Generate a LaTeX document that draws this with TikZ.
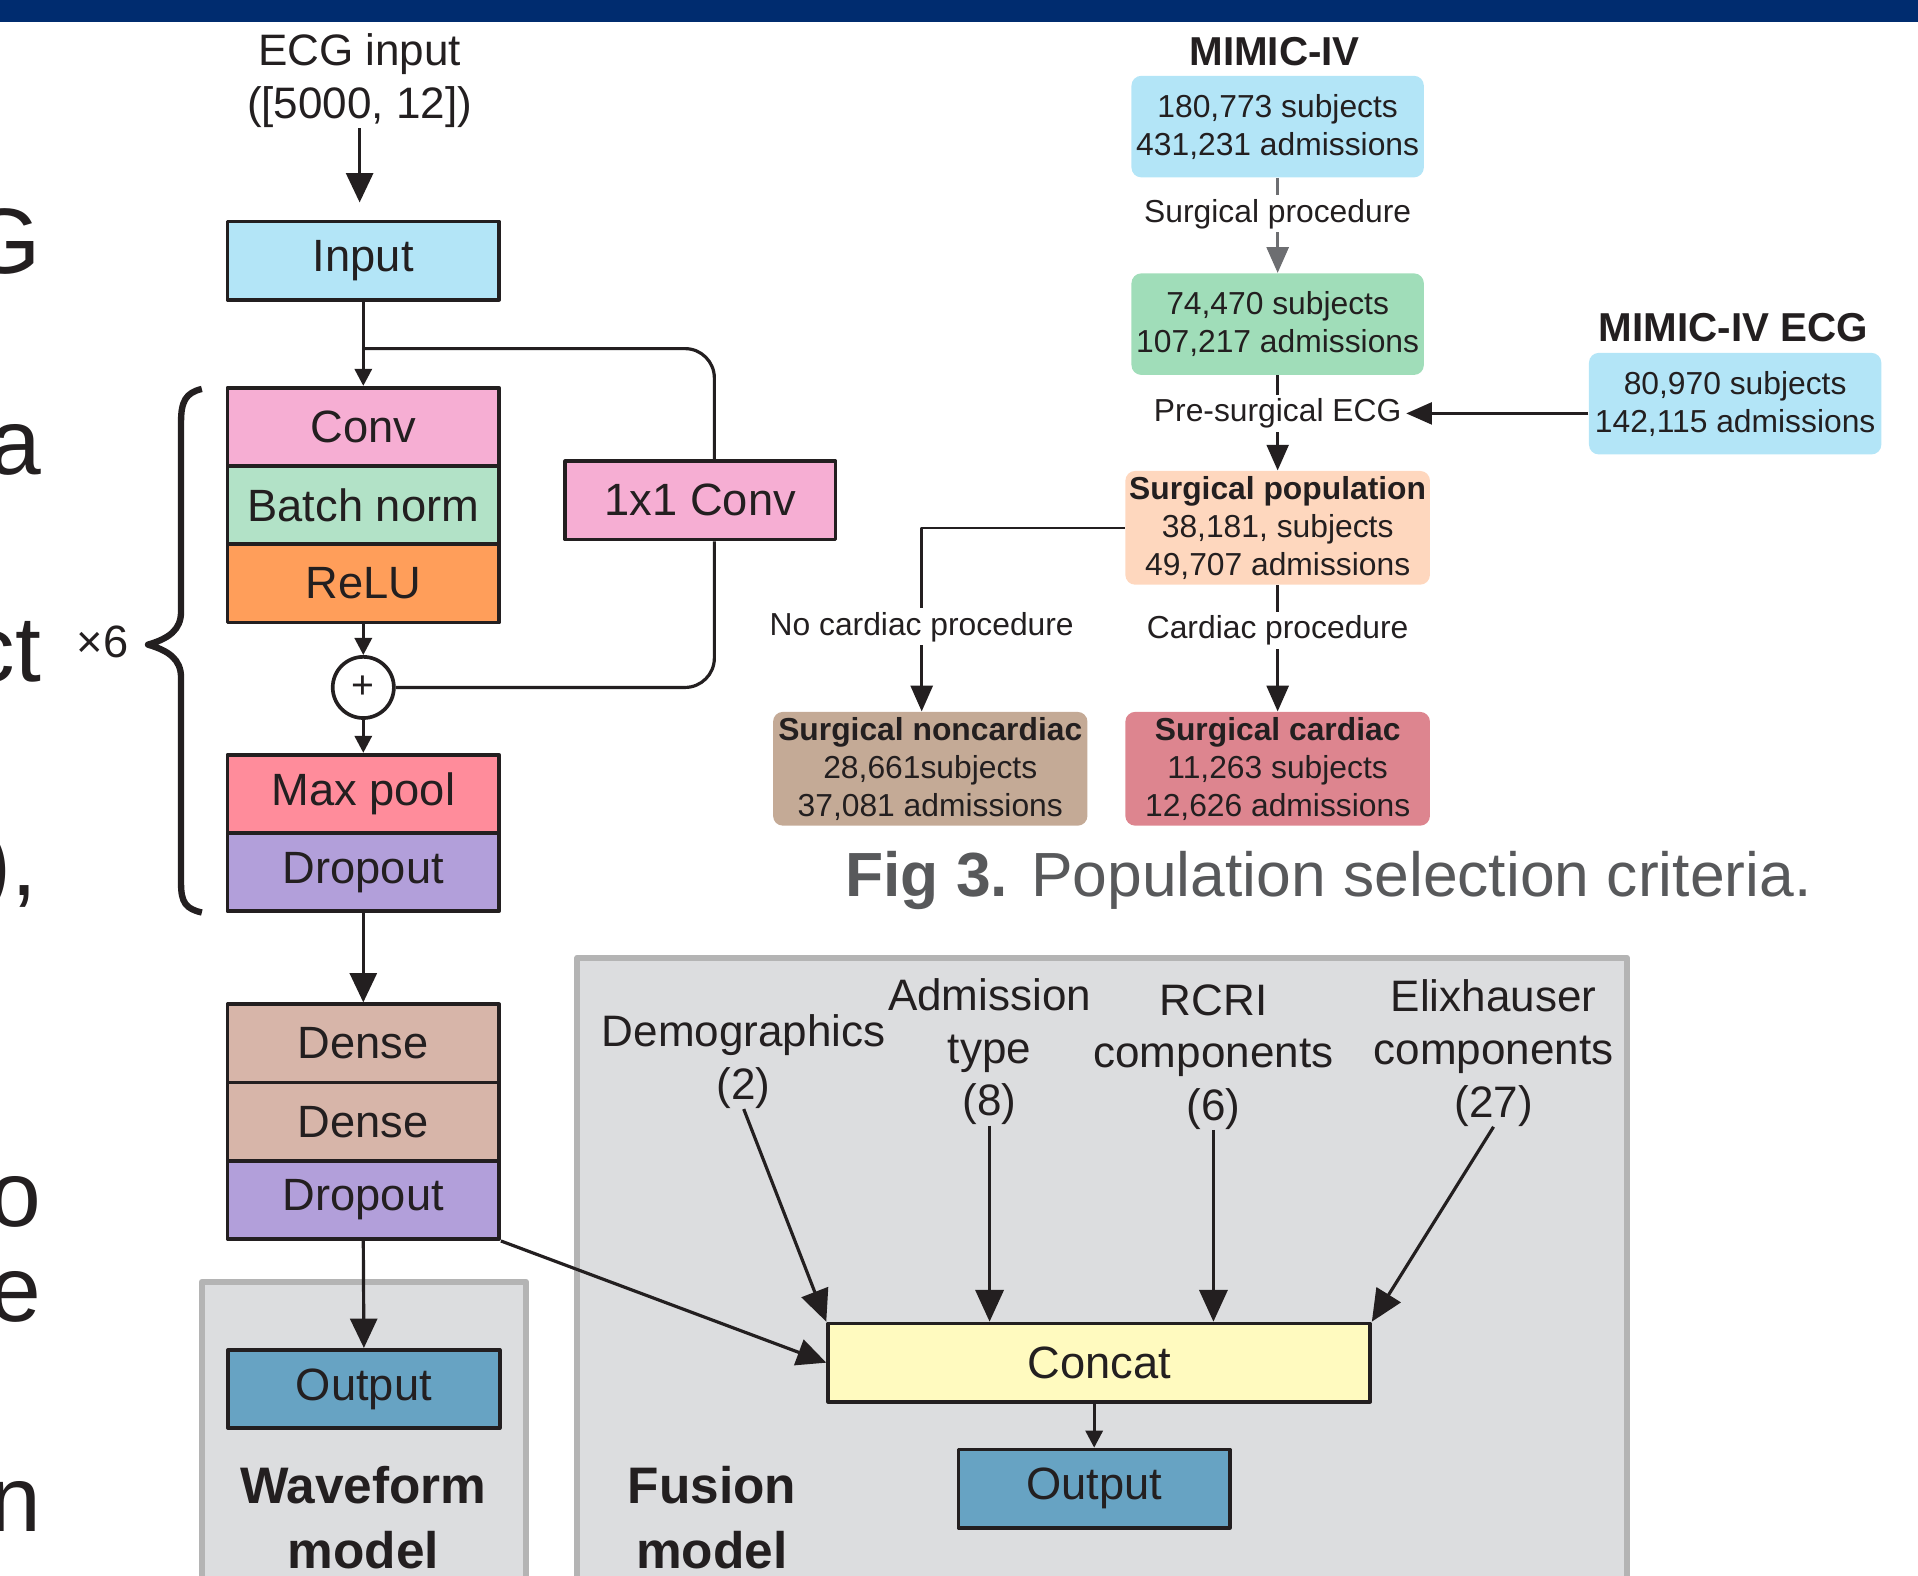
\documentclass[tikz,border=0pt]{standalone}
\usepackage{fontspec}
\setmainfont{Liberation Sans}
\usetikzlibrary{arrows.meta}

\definecolor{ink}{HTML}{231F20}
\definecolor{navy}{HTML}{002C6F}
\definecolor{cyanbox}{HTML}{B3E5F7}
\definecolor{convpink}{HTML}{F6AED3}
\definecolor{bnmint}{HTML}{B2E2C7}
\definecolor{reluor}{HTML}{FF9E5A}
\definecolor{poolred}{HTML}{FF8C9B}
\definecolor{droplav}{HTML}{B29FDA}
\definecolor{densetan}{HTML}{D7B5A9}
\definecolor{outblue}{HTML}{67A3C3}
\definecolor{concatyel}{HTML}{FFFABF}
\definecolor{panelgray}{HTML}{DCDDDF}
\definecolor{panelline}{HTML}{B4B4B4}
\definecolor{surggreen}{HTML}{A0DDB9}
\definecolor{poppeach}{HTML}{FED7BE}
\definecolor{noncardtan}{HTML}{C4AA96}
\definecolor{cardrose}{HTML}{DD858F}
\definecolor{arrowgray}{HTML}{6D6E71}
\definecolor{capgray}{HTML}{58595B}

\begin{document}
\begin{tikzpicture}
  [x=0.5pt,y=-0.5pt,line join=round,
   every node/.style={text=ink,inner sep=0pt,font=\fontsize{18.5}{22}\selectfont},
   netbox/.style={draw=ink,line width=1.5pt,minimum width=111pt,minimum height=32pt},
   flowbox/.style={rounded corners=4pt,minimum width=119.5pt,minimum height=41.5pt,align=center,font=\fontsize{13}{15.5}\selectfont},
   flowlbl/.style={fill=white,inner sep=1.5pt,font=\fontsize{13}{15.5}\selectfont},
   dbtitle/.style={font=\fontsize{16.5}{20}\selectfont\bfseries},
   panel/.style={fill=panelgray,draw=panelline,line width=2.5pt},
   wire/.style={draw=ink,line width=1.3pt},
   netarrow/.style={wire,-{Triangle[length=12pt,width=11pt]}},
   shortarrow/.style={wire,-{Triangle[length=7pt,width=7pt]}},
   bigarrow/.style={wire,-{Triangle[length=13pt,width=11.5pt]}},
   flowarrow/.style={draw=ink,line width=1pt,-{Triangle[length=10.5pt,width=9pt]}},
   inlbl/.style={align=center,font=\fontsize{18}{21.5}\selectfont},
   modellbl/.style={align=center,font=\fontsize{21}{26.5}\selectfont\bfseries},
   fragtext/.style={anchor=base east,font=\fontsize{38}{40}\selectfont}]

  \path[use as bounding box,clip] (0,0) rectangle (1568,1288);
  \fill[navy] (0,0) rectangle (1568,18);

  \path[panel] (165,1048) rectangle (430,1310);
  \path[panel] (472,783) rectangle (1330,1310);

  \node[fragtext] (f1) at (34,224) {G};
  \node[fragtext] (f2) at (34,388) {a};
  \node[fragtext] (f3) at (34,557) {ct};
  \node[fragtext] (f4) at (31,732) {),};
  \node[fragtext] (f5) at (34,1003) {o};
  \node[fragtext] (f6) at (34,1080) {e};
  \node[fragtext] (f7) at (34,1252) {n};

  \node[inlbl] (ecgin) at (294,66) {ECG input\\([5000, 12])};
  \node[netbox,fill=cyanbox] (in) at (297,213) {Input};
  \node[netbox,fill=convpink] (conv) at (297,349) {Conv};
  \node[netbox,fill=bnmint] (bn) at (297,413) {Batch norm};
  \node[netbox,fill=reluor] (relu) at (297,477) {ReLU};
  \node[netbox,fill=convpink,minimum width=110.5pt] (conv11) at (572.5,409) {1x1 Conv};
  \node[draw=ink,line width=1.5pt,circle,minimum size=25pt,font=\fontsize{16}{16}\selectfont] (plus) at (297,562) {+};
  \node[netbox,fill=poolred] (pool) at (297,649) {Max pool};
  \node[netbox,fill=droplav] (drop) at (297,713) {Dropout};
  \node[netbox,fill=densetan] (dense) at (297,853) {Dense};
  \node[netbox,fill=densetan] (dense2) at (297,917) {Dense};
  \node[netbox,fill=droplav] (drop2) at (297,981) {Dropout};
  \node[netbox,fill=outblue] (wout) at (297.5,1135.5) {Output};
  \node[modellbl] (wlbl) at (297,1241) {Waveform\\model};
  \node (rep) at (84,525) {×6};

  \draw[ink,line width=2.6pt] (165,318) .. controls (152,321) and (148,328) .. (148,345) -- (148,500)
    .. controls (148,515) and (138,522) .. (121,527) .. controls (138,532) and (148,539) .. (148,554)
    -- (148,722) .. controls (148,738) and (152,743) .. (165,746);

  \coordinate (split) at (297,285);
  \coordinate (skip) at (584,0);
  \draw[netarrow,shorten >=7pt] (ecgin.south) -- (ecgin.south |- in.north);
  \draw[shortarrow] (in.south) -- (conv.north);
  \draw[wire,rounded corners=12pt] (split) -| (conv11.north -| skip);
  \draw[wire,rounded corners=12pt] (conv11.south -| skip) |- (plus.east);
  \draw[shortarrow] (relu.south) -- (plus.north);
  \draw[shortarrow] (plus.south) -- (pool.north);
  \draw[netarrow] (drop.south) -- (dense.north);
  \draw[netarrow] (drop2.south) -- (wout.north);

  \node[netbox,fill=concatyel,minimum width=221.5pt] (concat) at (898.5,1114) {Concat};
  \node[netbox,fill=outblue] (fout) at (894.5,1217) {Output};
  \node[modellbl] (flbl) at (582,1241) {Fusion\\model};
  \node[inlbl] (demo) at (608,868) {Demographics\\(2)};
  \node[inlbl] (adm) at (809,860) {Admission\\type\\(8)};
  \node[inlbl] (rcri) at (992,864) {RCRI\\components\\(6)};
  \node[inlbl] (elix) at (1221,861) {Elixhauser\\components\\(27)};

  \draw[netarrow] (drop2.south east) -- (concat.west);
  \draw[bigarrow] (demo.south) -- (concat.north west);
  \draw[bigarrow] (adm.south) -- (adm.south |- concat.north);
  \draw[bigarrow] (rcri.south) -- (rcri.south |- concat.north);
  \draw[bigarrow] (elix.south) -- (concat.north east);
  \draw[shortarrow] (fout.north |- concat.south) -- (fout.north);

  \node[dbtitle] (mimic) at (1042,42) {MIMIC-IV};
  \node[flowbox,fill=cyanbox] (all) at (1044.5,103.5) {180,773 subjects\\431,231 admissions};
  \node[flowbox,fill=surggreen] (surg) at (1044.5,265) {74,470 subjects\\107,217 admissions};
  \node[dbtitle] (ecgtitle) at (1417,268) {MIMIC-IV ECG};
  \node[flowbox,fill=cyanbox] (ecgdb) at (1418.5,330) {80,970 subjects\\142,115 admissions};
  \node[flowbox,fill=poppeach,minimum width=124.5pt,minimum height=46.5pt] (pop) at (1044.5,431.5)
    {\textbf{Surgical population}\\38,181, subjects\\49,707 admissions};
  \node[flowbox,fill=noncardtan,minimum width=128.5pt,minimum height=46.5pt] (noncard) at (760.5,628.5)
    {\textbf{Surgical noncardiac}\\28,661subjects\\37,081 admissions};
  \node[flowbox,fill=cardrose,minimum width=124.5pt,minimum height=46.5pt] (card) at (1044.5,628.5)
    {\textbf{Surgical cardiac}\\11,263 subjects\\12,626 admissions};

  \draw[flowarrow,draw=arrowgray] (all.south) -- node[flowlbl,pos=0.38] (surgproc) {Surgical procedure} (surg.north);
  \draw[flowarrow] (surg.south) -- node[flowlbl,pos=0.4] (presurg) {Pre-surgical ECG} (pop.north);
  \draw[flowarrow] (ecgdb.west |- presurg.east) -- (presurg.east);
  \draw[flowarrow] (pop.west) -| node[flowlbl,pos=0.77] (nocard) {No cardiac procedure} ([xshift=-3.5pt]noncard.north);
  \draw[flowarrow] (pop.south) -- node[flowlbl,pos=0.36] (cardproc) {Cardiac procedure} (card.north);

  \node[font=\fontsize{25.5}{30}\selectfont,text=capgray] (cap) at (1086,720) {\textbf{Fig 3.} Population selection criteria.};

\end{tikzpicture}
\end{document}
